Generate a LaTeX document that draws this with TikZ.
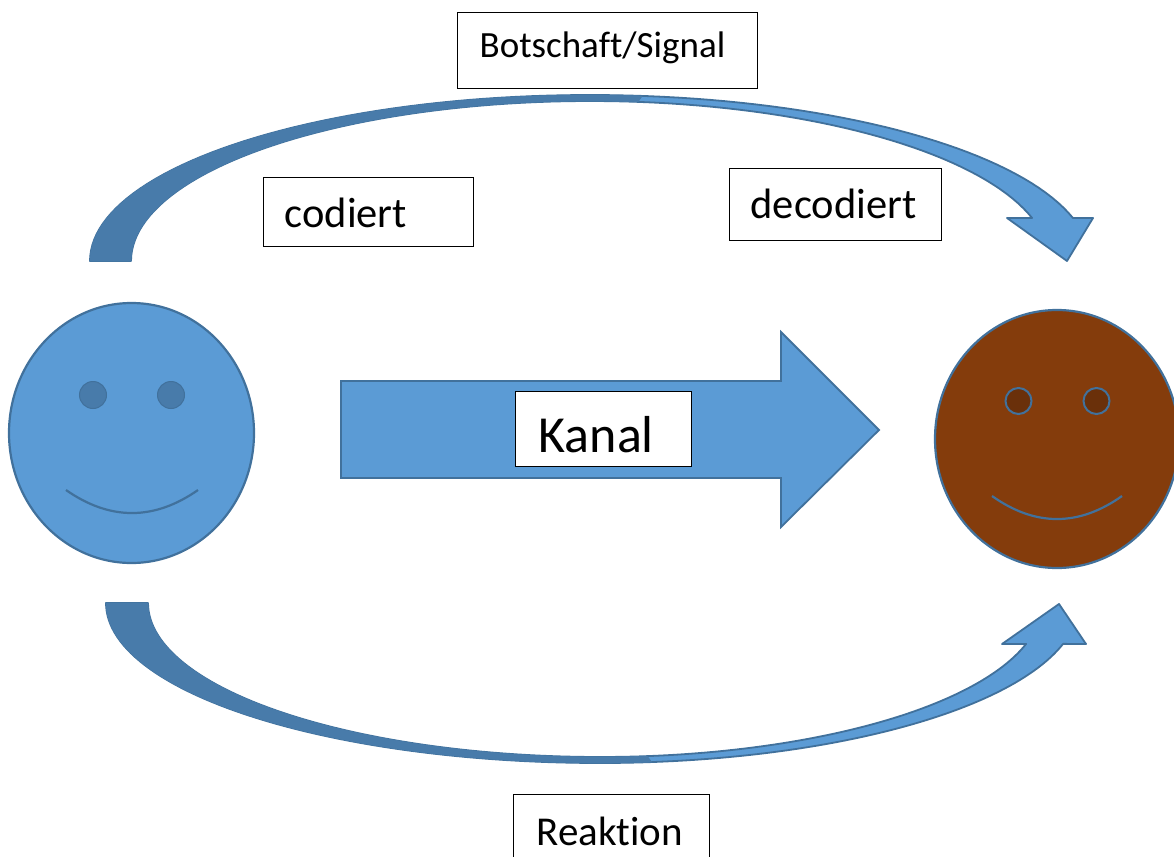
\documentclass[tikz,border=0pt]{standalone}
\usepackage{fontspec}
\setmainfont{Carlito}[Ligatures=NoCommon]
\usetikzlibrary{shapes.geometric}
\definecolor{blueFill}{HTML}{5B9BD5}
\definecolor{blueEdge}{HTML}{41719C}
\definecolor{blueDark}{HTML}{487BAA}
\definecolor{brownFill}{HTML}{843C0C}
\definecolor{brownDark}{HTML}{6A300A}
\begin{document}
\begin{tikzpicture}[x=1pt,y=-1pt,
  tbox/.style={draw=black, line width=1.3pt, fill=white, inner ysep=0pt, align=left, anchor=north west},
  face/.style={ellipse, draw=blueEdge, line width=2.2pt, inner sep=0pt},
  bandlight/.style={fill=blueFill, draw=blueEdge, line width=1.8pt, line join=round},
  banddark/.style={fill=blueDark, draw=blueDark, line width=0.6pt},
  smile/.style={draw=blueEdge, line width=2.2pt}]
\useasboundingbox (0,0) rectangle (1174,856);

% top curved arrow (Botschaft/Signal)
\path[bandlight] (90,261)
  -- plot[domain=180:15, samples=90, variable=\t] ({590+500*cos(\t)},{261-166*sin(\t)})
  -- (1093,218) -- (1067,261) -- (1007,218)
  -- plot[domain=15.6:180, samples=90, variable=\t] ({590+459*cos(\t)},{261-160*sin(\t)})
  -- cycle;
\path[banddark]
  plot[domain=180:84, samples=80, variable=\t] ({590+500*cos(\t)},{261-166*sin(\t)})
  -- plot[domain=84:180, samples=80, variable=\t] ({590+459*cos(\t)},{261-160*sin(\t)})
  -- cycle;

% bottom curved arrow (Reaktion)
\path[bandlight] (106,603)
  -- plot[domain=180:90, samples=60, variable=\t] ({600+494*cos(\t)},{603+160*sin(\t)})
  -- plot[domain=90:14.8, samples=60, variable=\t] ({600+479*cos(\t)},{603+160*sin(\t)})
  -- (1086,644) -- (1059,604) -- (1002,644)
  -- plot[domain=15.4:90, samples=60, variable=\t] ({600+442*cos(\t)},{603+154*sin(\t)})
  -- plot[domain=90:180, samples=60, variable=\t] ({600+452*cos(\t)},{603+154*sin(\t)})
  -- cycle;
\path[banddark]
  plot[domain=180:84, samples=80, variable=\t] ({600+494*cos(\t)},{603+160*sin(\t)})
  -- plot[domain=84:180, samples=80, variable=\t] ({600+452*cos(\t)},{603+154*sin(\t)})
  -- cycle;

% Kanal arrow
\path[fill=blueFill, draw=blueEdge, line width=1.8pt, line join=miter]
  (341,381) -- (781,381) -- (781,332) -- (879,430) -- (781,527) -- (781,478) -- (341,478) -- cycle;

% faces
\node[face, fill=blueFill, minimum width=245pt, minimum height=260pt] (sender) at (131.5,433) {};
\draw[blueEdge, line width=1pt, fill=blueDark] (93,395) circle[radius=13.5pt];
\draw[blueEdge, line width=1pt, fill=blueDark] (171,395) circle[radius=13.5pt];
\draw[smile] (66,490) .. controls (110,520.7) and (154,520.7) .. (198,490);

\node[face, fill=brownFill, minimum width=244pt, minimum height=258pt] (receiver) at (1057,439) {};
\draw[blueEdge, line width=2pt, fill=brownDark] (1018.5,401) circle[radius=13pt];
\draw[blueEdge, line width=2pt, fill=brownDark] (1096.5,401) circle[radius=13pt];
\draw[smile] (992,496) .. controls (1035.3,526.7) and (1078.7,526.7) .. (1122,496);

% text boxes
\node[tbox, inner xsep=22pt, text width=256pt, text height=45pt, text depth=31pt,
  font=\fontsize{37pt}{44pt}\selectfont] (sig) at (457,12) {Botschaft/Signal};
\node[tbox, inner xsep=21pt, text width=168pt, text height=50pt, text depth=19pt,
  font=\fontsize{42.5pt}{50pt}\selectfont] (cod) at (263,177) {codiert};
\node[tbox, inner xsep=21pt, text width=170pt, text height=50pt, text depth=22pt,
  font=\fontsize{42.5pt}{50pt}\selectfont] (dec) at (729,168) {decodiert};
\node[tbox, inner xsep=23pt, text width=130pt, text height=61pt, text depth=14pt,
  font=\fontsize{52pt}{60pt}\selectfont] (kan) at (515,391) {Kanal};
\node[tbox, inner xsep=23pt, text width=150pt, text height=51pt, text depth=40pt,
  font=\fontsize{41pt}{48pt}\selectfont] (rea) at (513,794) {Reaktion};
\end{tikzpicture}
\end{document}
